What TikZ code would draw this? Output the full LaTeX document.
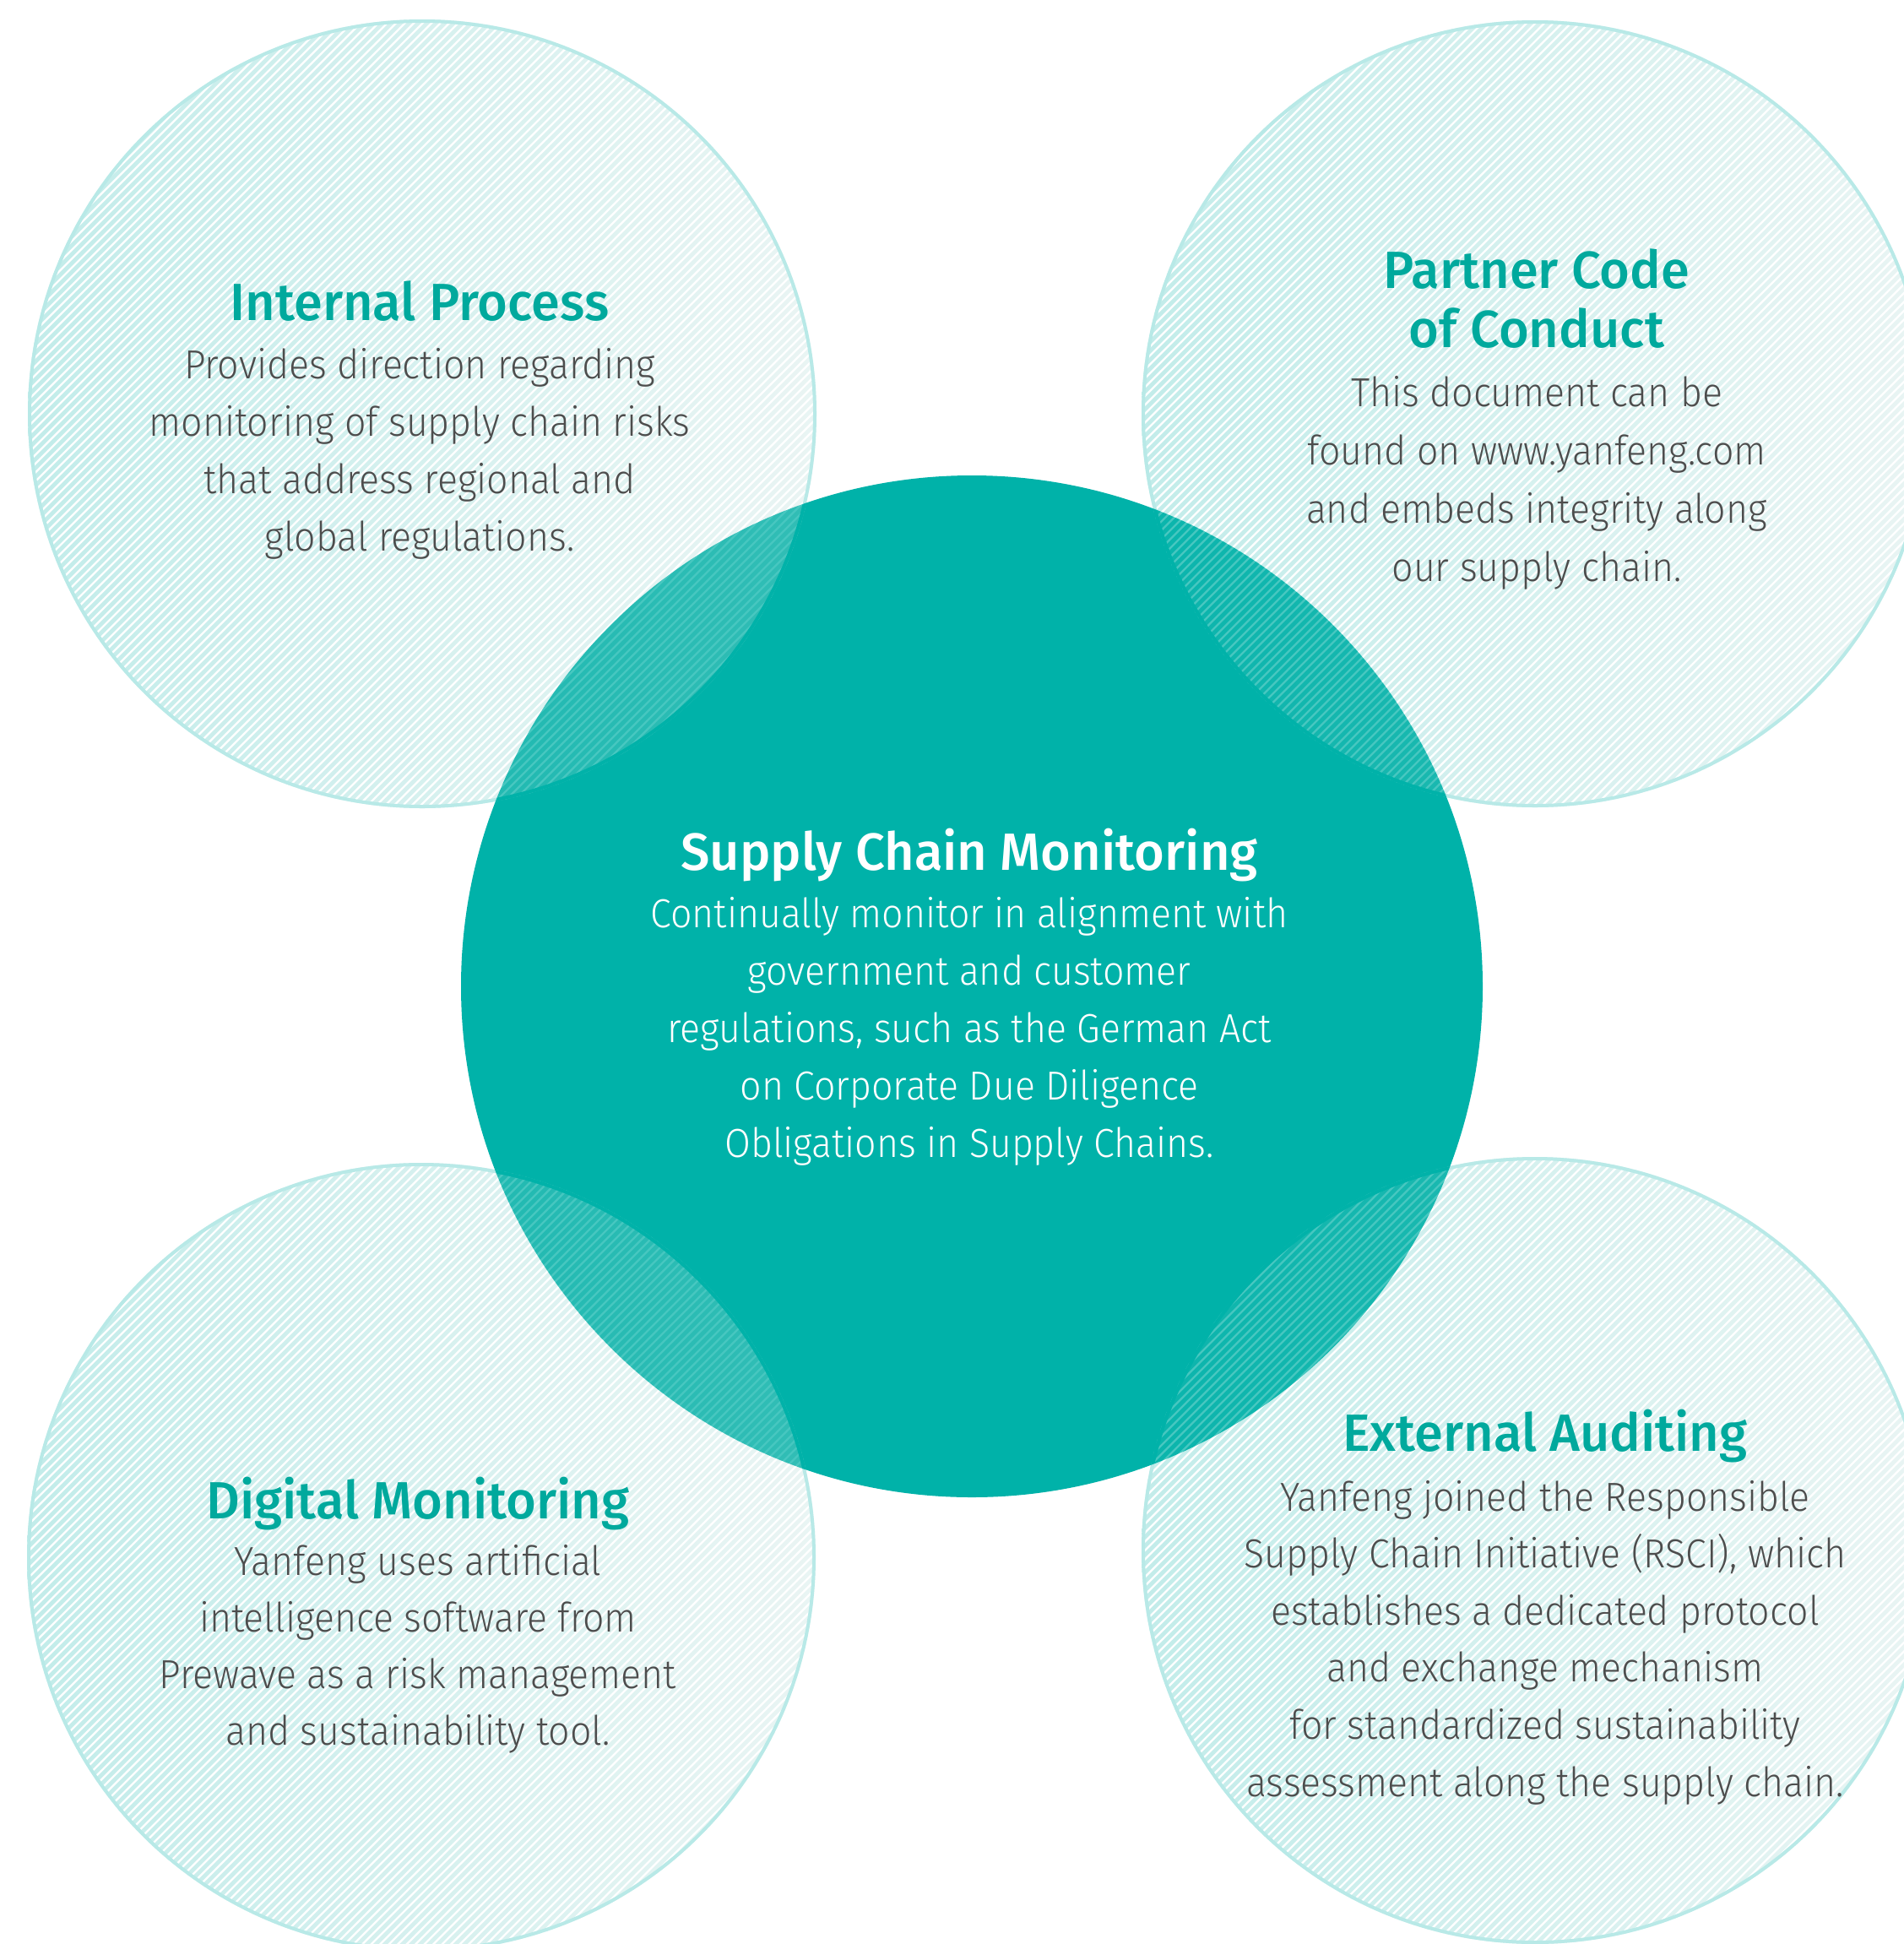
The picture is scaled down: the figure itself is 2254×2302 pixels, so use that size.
\documentclass[tikz,border=0pt]{standalone}
\usepackage{fontspec}
\setmainfont{Fira Sans}[UprightFont=* Light, BoldFont=* Medium]
\newfontfamily\bodyfont{Fira Sans Light}[FakeStretch=0.93]
\newfontfamily\titlefont{Fira Sans Medium}[FakeStretch=0.99]
\definecolor{teal0}{HTML}{00B2A9}
\definecolor{tealT}{HTML}{00A99D}
\definecolor{bodygray}{HTML}{4D4D4D}
\definecolor{fadeR}{HTML}{B4DCD8}
\tikzset{
  bodytext/.style={anchor=base, text=bodygray, font=\bodyfont\fontsize{48}{68}\selectfont, inner sep=0pt},
  titletext/.style={anchor=base, text=tealT, font=\titlefont\fontsize{62}{70}\selectfont, inner sep=0pt},
  centretext/.style={bodytext, text=white},
  centretitle/.style={titletext, text=white},
  ring/.style={draw=teal0, line width=4pt},
  hatch/.style={draw=white, line width=2.2pt},
}
\newcommand\outercircle[3]{%
  \begin{scope}[transparency group, opacity=0.28]
    \begin{scope}
      \clip (#1,#2) circle[radius=#3];
      \shade[left color=teal0!85!white, right color=fadeR] (#1-#3,#2-#3) rectangle (#1+#3,#2+#3);
      \foreach \k in {-682.5,-672,...,682.5}
        \draw[hatch] ({#1+\k-#3},{#2+#3}) -- ({#1+\k+#3},{#2-#3});
    \end{scope}
    \draw[ring] (#1,#2) circle[radius=#3-2];
  \end{scope}
}
\begin{document}
\begin{tikzpicture}[x=1pt,y=-1pt]
\fill[white] (0,0) rectangle (2254,2302);
\useasboundingbox (0,0) rectangle (2254,2302);
\clip (0,0) rectangle (2254,2302);
% central circle
\fill[teal0] (1151,1168) circle[radius=605];
% outer circles
\outercircle{500}{490}{467}
\outercircle{1818}{490}{466}
\outercircle{499}{1844}{467}
\outercircle{1818}{1836}{466}
% Internal Process
\node[titletext] (ipt) at (497,379) {Internal Process};
\foreach \t [count=\i from 0] in {Provides direction regarding, monitoring of supply chain risks, that address regional and, global regulations.}
  \node[bodytext] (ip\i) at (497,448+68*\i) {\t};
% Partner Code of Conduct
\node[titletext] (pct1) at (1820,341) {Partner Code};
\node[titletext] (pct2) at (1820,411) {of Conduct};
\foreach \t [count=\i from 0] in {This document can be, found on www.yanfeng.com, and embeds integrity along, our supply chain.}
  \node[bodytext] (pc\i) at (1820,481+69*\i) {\t};
% Supply Chain Monitoring
\node[centretitle] (scmt) at (1148,1030) {Supply Chain Monitoring};
\foreach \t [count=\i from 0] in {Continually monitor in alignment with, government and customer, {regulations, such as the German Act}, on Corporate Due Diligence, Obligations in Supply Chains.}
  \node[centretext] (scm\i) at (1148,1098+68*\i) {\t};
% Digital Monitoring
\node[titletext] (dmt) at (495,1798) {Digital Monitoring};
\foreach \t [count=\i from 0] in {Yanfeng uses artificial, intelligence software from, Prewave as a risk management, and sustainability tool.}
  \node[bodytext] (dm\i) at (495,1865+67*\i) {\t};
% External Auditing
\node[titletext] (eat) at (1830,1718) {External Auditing};
\foreach \t [count=\i from 0] in {Yanfeng joined the Responsible, {Supply Chain Initiative (RSCI), which}, establishes a dedicated protocol, and exchange mechanism, for standardized sustainability, assessment along the supply chain.}
  \node[bodytext] (ea\i) at (1830,1789+67.6*\i) {\t};
\end{tikzpicture}
\end{document}
